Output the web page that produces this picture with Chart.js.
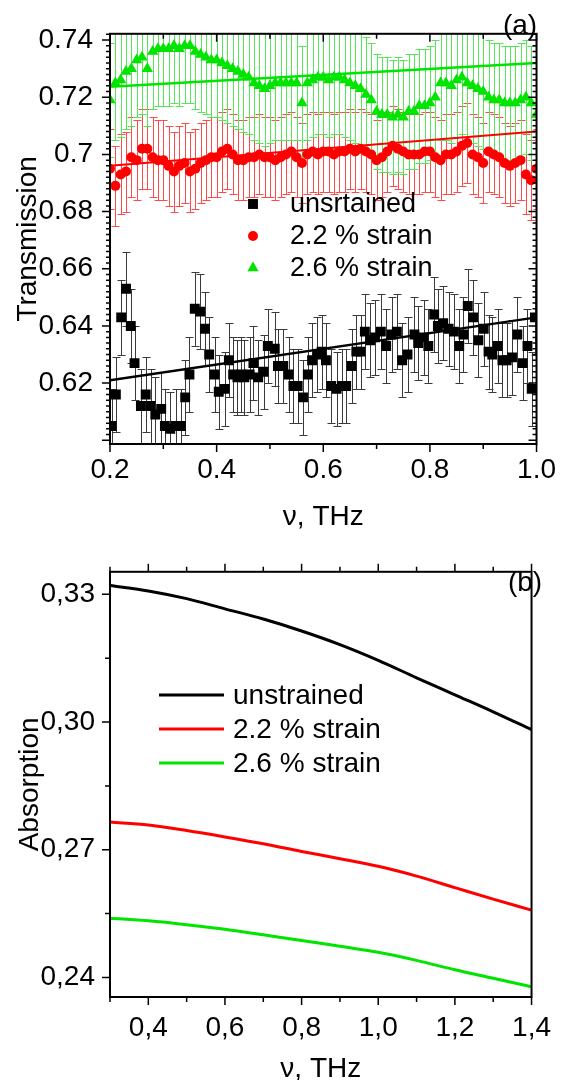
<!DOCTYPE html>
<html>
<head>
<meta charset="utf-8">
<script src="https://cdn.jsdelivr.net/npm/chart.js@4.4.0/dist/chart.umd.min.js"></script>
<style>
  html, body { margin: 0; padding: 0; background: #fff; overflow: hidden; }
  canvas { display: block; }
</style>
</head>
<body>
<canvas id="chart_a" width="565" height="540"></canvas>
<canvas id="chart_b" width="565" height="546"></canvas>
<script>
/*==================== (a) transmission data ====================*/
// frequency grid of the strained samples (THz)
const nuStrained = [0.20,0.21,0.22,0.23,0.24,0.25,0.26,0.27,0.28,0.29,
  0.30,0.31,0.32,0.33,0.34,0.35,0.36,0.37,0.38,0.39,
  0.40,0.41,0.42,0.43,0.44,0.45,0.46,0.47,0.48,0.49,
  0.50,0.51,0.52,0.53,0.54,0.55,0.56,0.57,0.58,0.59,
  0.60,0.61,0.62,0.63,0.64,0.65,0.66,0.67,0.68,0.69,
  0.70,0.71,0.72,0.73,0.74,0.75,0.76,0.77,0.78,0.79,
  0.80,0.81,0.82,0.83,0.84,0.85,0.86,0.87,0.88,0.89,
  0.90,0.91,0.92,0.93,0.94,0.95,0.96,0.97,0.98,0.99,1.00];

const redT = [0.695,0.689,0.693,0.694,0.699,0.698,0.702,0.702,0.699,0.698,
  0.698,0.696,0.694,0.696,0.697,0.694,0.695,0.697,0.698,0.699,
  0.699,0.701,0.702,0.700,0.698,0.698,0.699,0.699,0.700,0.699,
  0.699,0.698,0.699,0.700,0.701,0.699,0.697,0.700,0.701,0.700,
  0.701,0.701,0.700,0.701,0.701,0.702,0.701,0.702,0.701,0.700,
  0.698,0.699,0.701,0.703,0.702,0.701,0.700,0.700,0.700,0.701,
  0.701,0.699,0.698,0.700,0.700,0.701,0.703,0.704,0.700,0.699,
  0.697,0.701,0.700,0.699,0.697,0.696,0.697,0.698,0.693,0.691,0.695];

const greenT = [0.719,0.725,0.726,0.729,0.730,0.733,0.734,0.730,0.736,0.737,
  0.737,0.737,0.738,0.737,0.738,0.738,0.736,0.735,0.734,0.733,
  0.733,0.732,0.731,0.730,0.729,0.728,0.727,0.725,0.724,0.723,
  0.724,0.725,0.725,0.725,0.725,0.725,0.718,0.725,0.726,0.727,
  0.727,0.726,0.727,0.727,0.726,0.725,0.724,0.723,0.721,0.719,
  0.715,0.714,0.714,0.713,0.714,0.713,0.715,0.715,0.717,0.717,
  0.718,0.720,0.725,0.725,0.724,0.726,0.727,0.725,0.724,0.723,
  0.722,0.720,0.719,0.719,0.718,0.718,0.718,0.719,0.720,0.718,0.714];

const nuUnstrained = [0.203,0.211,0.221,0.230,0.239,0.246,0.258,0.267,0.276,0.285,
  0.296,0.303,0.313,0.323,0.333,0.341,0.349,0.359,0.369,0.378,
  0.386,0.396,0.404,0.415,0.423,0.431,0.439,0.446,0.452,0.462,
  0.469,0.478,0.488,0.496,0.509,0.515,0.525,0.535,0.544,0.552,
  0.562,0.571,0.579,0.589,0.597,0.605,0.615,0.625,0.635,0.643,
  0.653,0.662,0.670,0.678,0.688,0.697,0.708,0.718,0.728,0.738,
  0.748,0.758,0.771,0.778,0.788,0.797,0.808,0.815,0.825,0.835,
  0.845,0.855,0.863,0.871,0.881,0.891,0.901,0.910,0.917,0.927,
  0.936,0.944,0.954,0.964,0.974,0.983,0.991,0.997];

const blackT = [0.605,0.616,0.643,0.653,0.640,0.627,0.612,0.616,0.612,0.609,
  0.611,0.605,0.604,0.605,0.605,0.615,0.623,0.646,0.645,0.639,
  0.630,0.623,0.617,0.618,0.628,0.623,0.622,0.623,0.622,0.623,
  0.627,0.622,0.624,0.633,0.632,0.626,0.626,0.623,0.619,0.619,
  0.615,0.623,0.628,0.630,0.631,0.628,0.619,0.618,0.619,0.619,
  0.626,0.631,0.631,0.638,0.635,0.636,0.638,0.633,0.637,0.638,
  0.628,0.630,0.637,0.634,0.636,0.633,0.644,0.640,0.641,0.639,
  0.638,0.633,0.637,0.647,0.643,0.635,0.639,0.631,0.630,0.633,
  0.628,0.628,0.629,0.637,0.627,0.633,0.618,0.643];

// error bar half heights
const errBlack = 0.013, errRed = 0.014, errGreen = 0.02;

// linear fits (end points)
const fitNu = [0.2, 1.0];
const fitBlack = [0.621, 0.643];
const fitRed = [0.696, 0.708];
const fitGreen = [0.7237, 0.732];

// labelled ticks of panel (a)
const transTicks = [0.62, 0.64, 0.66, 0.68, 0.70, 0.72, 0.74];
const nuTicksA = [0.2, 0.4, 0.6, 0.8, 1.0];

/*==================== (b) absorption data ====================*/
const absNu = [0.3,0.4,0.5,0.6,0.7,0.8,0.9,1.0,1.1,1.2,1.3,1.4];
const absUnstrained = [0.3321,0.3308,0.3290,0.3266,0.3242,0.3214,0.3182,0.3145,0.3104,0.3064,0.3024,0.2982];
const absStrain22 = [0.2765,0.2758,0.2745,0.2730,0.2714,0.2696,0.2679,0.2661,0.2638,0.2611,0.2584,0.2558];
const absStrain26 = [0.2539,0.2533,0.2524,0.2513,0.2500,0.2487,0.2473,0.2459,0.2440,0.2418,0.2398,0.2378];

// labelled ticks of panel (b)
const absTicks = [0.24, 0.27, 0.30, 0.33];
const nuTicksB = [0.4, 0.6, 0.8, 1.0, 1.2, 1.4];

const GREEN = '#00e400';
const RED = '#ff0000';
const FONT = '"Liberation Sans", Arial, sans-serif';

Chart.defaults.font.family = FONT;
Chart.defaults.font.size = 28;
Chart.defaults.color = '#000';

const pts = (xs, ys) => xs.map((v, i) => ({x: v, y: ys[i]}));
const fixTicks = list => (s => { s.ticks = list.map(v => ({value: v})); });

/*==================== plugins ====================*/
const errorBars = {
  id: 'errorBars',
  beforeDatasetsDraw(chart) {
    const {ctx, chartArea: a, scales: {x, y}} = chart;
    ctx.save();
    ctx.beginPath();
    ctx.rect(a.left, a.top, a.right - a.left, a.bottom - a.top);
    ctx.clip();
    ctx.lineWidth = 1;
    chart.data.datasets.forEach(ds => {
      if (!ds.err) return;
      ctx.strokeStyle = ds.errColor;
      ctx.beginPath();
      ds.data.forEach(p => {
        const px = Math.round(x.getPixelForValue(p.x)) + 0.5;
        const lo = Math.round(y.getPixelForValue(p.y - ds.err)) + 0.5;
        const hi = Math.round(y.getPixelForValue(p.y + ds.err)) + 0.5;
        ctx.moveTo(px, lo); ctx.lineTo(px, hi);
        ctx.moveTo(px - 4, lo); ctx.lineTo(px + 4, lo);
        ctx.moveTo(px - 4, hi); ctx.lineTo(px + 4, hi);
      });
      ctx.stroke();
    });
    ctx.restore();
  }
};

function drawMark(ctx, style, x, y, r, color) {
  ctx.fillStyle = color;
  ctx.beginPath();
  if (style === 'rect') {
    const h = r * Math.SQRT1_2;
    ctx.rect(x - h, y - h, 2 * h, 2 * h);
  } else if (style === 'triangle') {
    const s = Math.sin(2 * Math.PI / 3) * r, c = Math.cos(2 * Math.PI / 3) * r;
    ctx.moveTo(x, y - r);
    ctx.lineTo(x + s, y - c);
    ctx.lineTo(x - s, y - c);
    ctx.closePath();
  } else {
    ctx.arc(x, y, r, 0, Math.PI * 2);
  }
  ctx.fill();
}

const decor = {
  id: 'decor',
  afterDatasetsDraw(chart, args, opts) {
    const {ctx, chartArea: a, scales: {x, y}} = chart;
    ctx.save();
    // tick marks on all sides
    ctx.strokeStyle = '#000';
    ctx.lineWidth = 1.5;
    ctx.beginPath();
    opts.sides.forEach(s => {
      const sc = (s.side === 'left' || s.side === 'right') ? y : x;
      const k0 = Math.ceil(sc.min / s.step - 1e-6);
      const k1 = Math.floor(sc.max / s.step + 1e-6);
      for (let k = k0; k <= k1; k++) {
        const len = (k % s.every === 0) ? s.major : s.minor;
        const d = s.out ? len : -len;
        const p = sc.getPixelForValue(k * s.step);
        if (s.side === 'left') { ctx.moveTo(a.left, p); ctx.lineTo(a.left - d, p); }
        if (s.side === 'right') { ctx.moveTo(a.right, p); ctx.lineTo(a.right + d, p); }
        if (s.side === 'bottom') { ctx.moveTo(p, a.bottom); ctx.lineTo(p, a.bottom + d); }
        if (s.side === 'top') { ctx.moveTo(p, a.top); ctx.lineTo(p, a.top - d); }
      }
    });
    ctx.stroke();
    ctx.lineWidth = 2;
    ctx.strokeRect(a.left, a.top, a.right - a.left, a.bottom - a.top);

    // panel letter
    ctx.fillStyle = '#000';
    ctx.font = '28px ' + FONT;
    ctx.textAlign = 'center';
    ctx.textBaseline = 'middle';
    ctx.fillText(opts.letter.text, opts.letter.x, opts.letter.y);

    // legend inside the plot
    const lg = opts.legend;
    ctx.font = lg.size + 'px ' + FONT;
    ctx.textAlign = 'left';
    chart.data.datasets.filter(ds => ds.inLegend).forEach((ds, i) => {
      const yy = lg.y0 + i * lg.dy;
      if (lg.lines) {
        ctx.strokeStyle = ds.borderColor;
        ctx.lineWidth = 3;
        ctx.beginPath();
        ctx.moveTo(lg.x0, yy); ctx.lineTo(lg.x1, yy);
        ctx.stroke();
      } else {
        drawMark(ctx, ds.pointStyle, lg.x0, yy, ds.pointRadius, ds.backgroundColor);
      }
      ctx.fillStyle = '#000';
      ctx.fillText(ds.label, lg.textX, yy + 1);
    });
    ctx.restore();
  }
};

/*==================== (a) chart ====================*/
const chartA = new Chart(document.getElementById('chart_a'), {
  type: 'scatter',
  data: {
    datasets: [
      { label: 'fit black', data: pts(fitNu, fitBlack), showLine: true, pointRadius: 0, borderColor: '#000', borderWidth: 2.5 },
      { label: 'fit red', data: pts(fitNu, fitRed), showLine: true, pointRadius: 0, borderColor: RED, borderWidth: 2 },
      { label: 'fit green', data: pts(fitNu, fitGreen), showLine: true, pointRadius: 0, borderColor: GREEN, borderWidth: 2.5 },
      { label: 'unsrtained', data: pts(nuUnstrained, blackT), pointStyle: 'rect', pointRadius: 7,
        backgroundColor: '#000', borderWidth: 0, err: errBlack, errColor: '#3a3a3a', inLegend: true },
      { label: '2.2 % strain', data: pts(nuStrained, redT), pointStyle: 'circle', pointRadius: 5,
        backgroundColor: RED, borderWidth: 0, err: errRed, errColor: '#ff4a4a', inLegend: true },
      { label: '2.6 % strain', data: pts(nuStrained, greenT), pointStyle: 'triangle', pointRadius: 6.5,
        backgroundColor: GREEN, borderWidth: 0, err: errGreen, errColor: '#55e655', inLegend: true }
    ]
  },
  options: {
    responsive: false,
    animation: false,
    layout: { padding: { top: 13, right: 22, bottom: 0, left: 0 } },
    plugins: {
      legend: { display: false },
      tooltip: { enabled: false },
      decor: {
        sides: [
          { side: 'left', step: 0.002, every: 10, out: true, major: 8, minor: 4 },
          { side: 'right', step: 0.002, every: 10, out: false, major: 8, minor: 4 },
          { side: 'bottom', step: 0.1, every: 2, out: true, major: 8, minor: 5 },
          { side: 'top', step: 0.1, every: 2, out: false, major: 8, minor: 5 }
        ],
        letter: { text: '(a)', x: 520, y: 26 },
        legend: { lines: false, x0: 253, textX: 290, y0: 204, dy: 32, size: 27 }
      }
    },
    scales: {
      x: {
        type: 'linear', min: 0.2, max: 1.0,
        afterBuildTicks: fixTicks(nuTicksA),
        afterFit: s => { s.height = 96; },
        grid: { display: false, drawTicks: false },
        border: { display: false },
        ticks: { padding: 9, autoSkip: false, maxRotation: 0, callback: v => v.toFixed(1) },
        title: { display: true, text: 'ν, THz', padding: { top: 0, bottom: 6 } }
      },
      y: {
        type: 'linear', min: 0.5987, max: 0.7422,
        afterBuildTicks: fixTicks(transTicks),
        afterFit: s => { s.width = 110; },
        grid: { display: false, drawTicks: false },
        border: { display: false },
        ticks: { padding: 17, autoSkip: false, callback: v => String(+v.toFixed(2)) },
        title: { display: true, text: 'Transmission', padding: { top: 11, bottom: 0 } }
      }
    }
  },
  plugins: [errorBars, decor]
});

/*==================== (b) chart ====================*/
const chartB = new Chart(document.getElementById('chart_b'), {
  type: 'scatter',
  data: {
    datasets: [
      { label: 'unstrained', data: pts(absNu, absUnstrained), borderColor: '#000', inLegend: true },
      { label: '2.2 % strain', data: pts(absNu, absStrain22), borderColor: RED, inLegend: true },
      { label: '2.6 % strain', data: pts(absNu, absStrain26), borderColor: GREEN, inLegend: true }
    ]
  },
  options: {
    responsive: false,
    animation: false,
    layout: { padding: { top: 23, right: 22, bottom: 0, left: 0 } },
    elements: {
      line: { borderWidth: 3, cubicInterpolationMode: 'monotone', fill: false },
      point: { radius: 0 }
    },
    datasets: { scatter: { showLine: true } },
    plugins: {
      legend: { display: false },
      tooltip: { enabled: false },
      decor: {
        sides: [
          { side: 'left', step: 0.015, every: 2, out: true, major: 8, minor: 5 },
          { side: 'bottom', step: 0.1, every: 2, out: true, major: 8, minor: 5 },
          { side: 'top', step: 0.1, every: 2, out: true, major: 8, minor: 5 }
        ],
        letter: { text: '(b)', x: 525, y: 43 },
        legend: { lines: true, x0: 159, x1: 224, textX: 233, y0: 155, dy: 34, size: 28 }
      }
    },
    scales: {
      x: {
        type: 'linear', min: 0.3, max: 1.4,
        afterBuildTicks: fixTicks(nuTicksB),
        afterFit: s => { s.height = 89; },
        grid: { display: false, drawTicks: false },
        border: { display: false },
        ticks: { padding: 14, autoSkip: false, maxRotation: 0, callback: v => v.toFixed(1).replace('.', ',') },
        title: { display: true, text: 'ν, THz', padding: { top: 0, bottom: 0 } }
      },
      y: {
        type: 'linear', min: 0.2354, max: 0.3353,
        afterBuildTicks: fixTicks(absTicks),
        afterFit: s => { s.width = 110; },
        grid: { display: false, drawTicks: false },
        border: { display: false },
        ticks: { padding: 15, autoSkip: false, callback: v => v.toFixed(2).replace('.', ',') },
        title: { display: true, text: 'Absorption', padding: { top: 13, bottom: 0 } }
      }
    }
  },
  plugins: [decor]
});
</script>
</body>
</html>
